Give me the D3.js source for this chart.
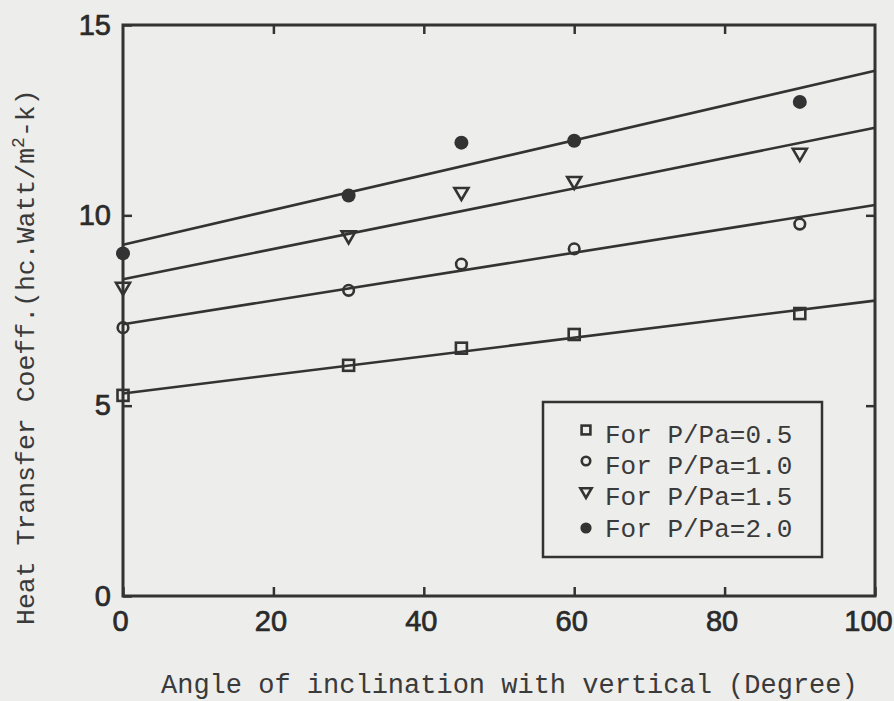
<!DOCTYPE html>
<html>
<head>
<meta charset="utf-8">
<script src="https://cdn.jsdelivr.net/npm/d3@7/dist/d3.min.js"></script>
<style>
  html, body { margin: 0; padding: 0; background: #ededeb; }
  svg { display: block; }
</style>
</head>
<body>
<svg id="chart" width="894" height="701"></svg>
<script>
// ---- data ----
const angles = [0, 30, 45, 60, 90];
const seriesNames = ["For P/Pa=0.5", "For P/Pa=1.0", "For P/Pa=1.5", "For P/Pa=2.0"];
const hc05 = [5.27, 6.06, 6.51, 6.87, 7.42];
const hc10 = [7.05, 8.03, 8.72, 9.12, 9.77];
const hc15 = [8.07, 9.42, 10.56, 10.85, 11.59];
const hc20 = [9.00, 10.52, 11.91, 11.96, 12.98];
// fitted straight lines: value at angle 0 and at angle 100
const fitStart = [5.32, 7.14, 8.32, 9.23];
const fitEnd = [7.76, 10.27, 12.30, 13.80];
const xTicks = [0, 20, 40, 60, 80, 100];
const yTicks = [0, 5, 10, 15];
const rightTicks = [5, 10];
const topTicks = [20, 40, 60, 80];
const markerKinds = ["square", "circle", "triangle", "dot"];

const series = [hc05, hc10, hc15, hc20];

const svg = d3.select("#chart");
const ink = "#333333";
const L = 123, R = 875, T = 25, B = 596;

const x = d3.scaleLinear().domain([0, 100]).range([L, R]);
const y = d3.scaleLinear().domain([0, 15]).range([B, T]);

// frame
svg.append("rect")
  .attr("x", L).attr("y", T).attr("width", R - L).attr("height", B - T)
  .attr("fill", "none").attr("stroke", ink).attr("stroke-width", 3);

function styleAxis(g) {
  g.select(".domain").remove();
  g.selectAll(".tick line").attr("stroke", ink).attr("stroke-width", 2.5);
  g.selectAll(".tick text")
    .attr("fill", "#2a2a2a")
    .attr("stroke", "#2a2a2a")
    .attr("stroke-width", 0.7)
    .style("font-family", "'Liberation Sans', Arial, sans-serif")
    .style("font-size", "29px");
}

svg.append("g").attr("transform", `translate(0,${B})`)
  .call(d3.axisBottom(x).tickValues(xTicks).tickSizeInner(-9).tickSizeOuter(0).tickPadding(14).tickFormat(d3.format("d")))
  .call(styleAxis)
  .call(g => g.selectAll(".tick text").attr("dx", d => d === 100 ? -7 : -3));

svg.append("g").attr("transform", `translate(${L},0)`)
  .call(d3.axisLeft(y).tickValues(yTicks).tickSizeInner(-9).tickSizeOuter(0).tickPadding(12).tickFormat(d3.format("d")))
  .call(styleAxis);

svg.append("g").attr("transform", `translate(0,${T})`)
  .call(d3.axisTop(x).tickValues(topTicks).tickSizeInner(-9).tickSizeOuter(0).tickFormat(""))
  .call(styleAxis);

svg.append("g").attr("transform", `translate(${R},0)`)
  .call(d3.axisRight(y).tickValues(rightTicks).tickSizeInner(-9).tickSizeOuter(0).tickFormat(""))
  .call(styleAxis);

// fit lines
const plot = svg.append("g");
plot.selectAll("line.fit")
  .data(fitStart.map((s, i) => ({ s, e: fitEnd[i] })))
  .join("line")
  .attr("class", "fit")
  .attr("x1", x(0)).attr("y1", d => y(d.s))
  .attr("x2", x(100)).attr("y2", d => y(d.e))
  .attr("stroke", ink).attr("stroke-width", 2.6);

function drawMarker(g, kind, cx, cy, scale) {
  const sw = 2.6;
  if (kind === "square") {
    const s = 11 * scale;
    g.append("rect").attr("x", cx - s / 2).attr("y", cy - s / 2).attr("width", s).attr("height", s)
      .attr("fill", "none").attr("stroke", ink).attr("stroke-width", sw);
  } else if (kind === "circle") {
    g.append("circle").attr("cx", cx).attr("cy", cy).attr("r", 5.3 * scale)
      .attr("fill", "none").attr("stroke", ink).attr("stroke-width", sw);
  } else if (kind === "triangle") {
    const w = 14 * scale, h = 12 * scale;
    const p = d3.path();
    p.moveTo(cx - w / 2, cy - h / 2);
    p.lineTo(cx + w / 2, cy - h / 2);
    p.lineTo(cx, cy + h / 2);
    p.closePath();
    g.append("path").attr("d", p.toString())
      .attr("fill", "none").attr("stroke", ink).attr("stroke-width", sw).attr("stroke-linejoin", "miter");
  } else {
    g.append("circle").attr("cx", cx).attr("cy", cy).attr("r", 7 * scale)
      .attr("fill", ink);
  }
}

series.forEach((vals, si) => {
  const g = plot.append("g");
  vals.forEach((v, i) => drawMarker(g, markerKinds[si], x(angles[i]), y(v), 1));
});

// legend
const lg = svg.append("g");
lg.append("rect").attr("x", 543).attr("y", 402).attr("width", 279).attr("height", 155)
  .attr("fill", "none").attr("stroke", ink).attr("stroke-width", 2.5);
const baselines = [443, 474, 505, 537];
const symOffsets = [13, 13, 12, 9];
seriesNames.forEach((name, i) => {
  drawMarker(lg, markerKinds[i], 586, baselines[i] - symOffsets[i], 0.8);
  lg.append("text").attr("x", 605).attr("y", baselines[i])
    .attr("fill", "#3a3a3a")
    .style("font-family", "'Liberation Mono', 'Courier New', monospace")
    .style("font-size", "26px")
    .text(name);
});

// axis titles
svg.append("text")
  .attr("x", 161).attr("y", 693)
  .attr("fill", "#3a3a3a")
  .style("font-family", "'Liberation Mono', 'Courier New', monospace")
  .style("font-size", "27px")
  .text("Angle of inclination with vertical (Degree)");

const yt = svg.append("text")
  .attr("transform", "translate(34,625) rotate(-90)")
  .attr("x", 0).attr("y", 0)
  .attr("fill", "#3a3a3a")
  .style("font-family", "'Liberation Mono', 'Courier New', monospace")
  .style("font-size", "26.5px");
yt.append("tspan").text("Heat Transfer Coeff.(hc.Watt/m");
yt.append("tspan").attr("dy", -10).style("font-size", "18px").text("2");
yt.append("tspan").attr("dy", 10).text("-k)");
</script>
</body>
</html>
